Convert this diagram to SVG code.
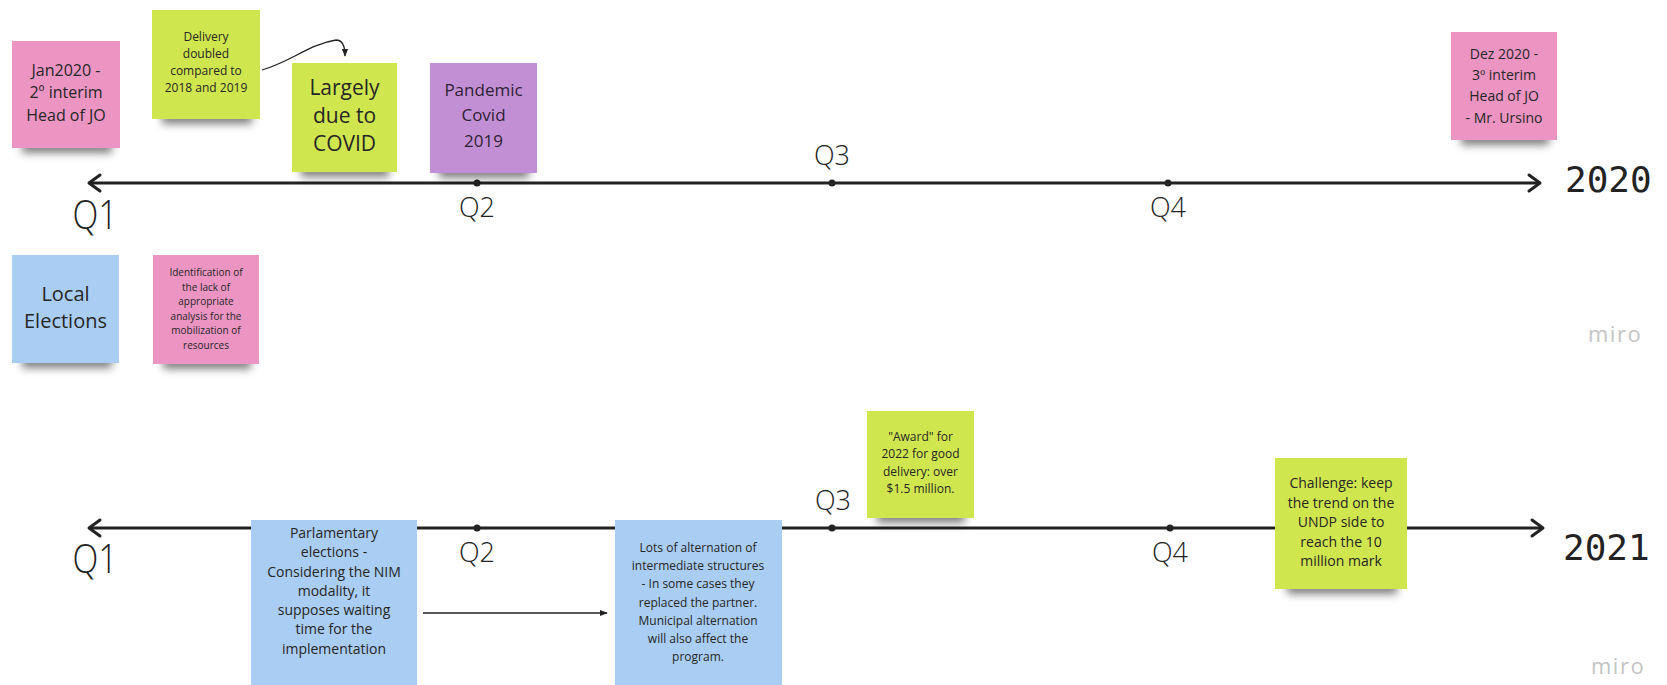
<svg xmlns="http://www.w3.org/2000/svg" width="1667" height="685" viewBox="0 0 1667 685">
<style>
  .t { font-family: "Open Sans", "Noto Sans", sans-serif; fill: #262626; text-anchor: middle; dominant-baseline: central; }
  .q { font-family: "Open Sans", "Noto Sans", sans-serif; font-weight: 300; fill: #222; text-anchor: middle; }
  .yr { font-family: "DejaVu Sans Mono", "Liberation Mono", monospace; fill: #222; font-size: 36px; }
  .miro { font-family: "Open Sans", "Noto Sans", sans-serif; fill: #c4c4c4; font-size: 22px; letter-spacing: 1.5px; }
  .pink { fill: #ed95c2; }
  .green { fill: #d0e64e; }
  .purple { fill: #c38fd4; }
  .blue { fill: #a9cdf3; }
  .shadow { fill: #000; opacity: 0.5; filter: url(#blur); }
  .axis { stroke: #222; stroke-width: 3; fill: none; }
  .head { stroke: #222; stroke-width: 3; fill: none; stroke-linecap: round; stroke-linejoin: round; }
  .conn { stroke: #222; stroke-width: 1.3; fill: none; }
  .dot { fill: #222; }
</style>
<defs>
  <filter id="blur" x="-20%" y="-100%" width="140%" height="300%">
    <feGaussianBlur stdDeviation="4"/>
  </filter>
  <marker id="arr" viewBox="0 0 10 10" refX="9" refY="5" markerWidth="8" markerHeight="8" orient="auto" markerUnits="userSpaceOnUse">
    <path d="M0,1 L10,5 L0,9 Z" fill="#222"/>
  </marker>
</defs>
<rect width="1667" height="685" fill="#ffffff"/>

<g id="timelines">
  <line class="axis" x1="89" y1="183" x2="1539" y2="183"/>
  <polyline class="head" points="100,175 89,183 100,191"/>
  <polyline class="head" points="1529,175 1540,183 1529,191"/>
  <circle class="dot" cx="477" cy="183" r="3.5"/>
  <circle class="dot" cx="832" cy="183" r="3.5"/>
  <circle class="dot" cx="1168" cy="183" r="3.5"/>
  <line class="axis" x1="89" y1="528" x2="1542" y2="528"/>
  <polyline class="head" points="100,520 89,528 100,536"/>
  <polyline class="head" points="1532,520 1543,528 1532,536"/>
  <circle class="dot" cx="477" cy="528" r="3.5"/>
  <circle class="dot" cx="832" cy="528" r="3.5"/>
  <circle class="dot" cx="1170" cy="528" r="3.5"/>
</g>

<g id="labels">
  <text class="q" x="95" y="229" font-size="40" textLength="45" lengthAdjust="spacingAndGlyphs">Q1</text>
  <text class="q" x="477" y="217" font-size="27" textLength="36" lengthAdjust="spacingAndGlyphs">Q2</text>
  <text class="q" x="832" y="165" font-size="27" textLength="36" lengthAdjust="spacingAndGlyphs">Q3</text>
  <text class="q" x="1168" y="217" font-size="27" textLength="36" lengthAdjust="spacingAndGlyphs">Q4</text>
  <text class="yr" x="1565" y="192">2020</text>
  <text class="q" x="95" y="573" font-size="40" textLength="45" lengthAdjust="spacingAndGlyphs">Q1</text>
  <text class="q" x="477" y="562" font-size="27" textLength="36" lengthAdjust="spacingAndGlyphs">Q2</text>
  <text class="q" x="833" y="510" font-size="27" textLength="36" lengthAdjust="spacingAndGlyphs">Q3</text>
  <text class="q" x="1170" y="562" font-size="27" textLength="36" lengthAdjust="spacingAndGlyphs">Q4</text>
  <text class="yr" x="1563" y="560">2021</text>
  <text class="miro" x="1588" y="342">miro</text>
  <text class="miro" x="1591" y="674">miro</text>
</g>

<g id="jan2020">
  <rect class="shadow" x="22" y="140" width="90" height="13"/>
  <rect class="pink" x="12" y="41" width="108" height="107"/>
  <text class="t" font-size="16"><tspan x="66" y="70">Jan2020 -</tspan><tspan x="66" y="92">2º interim</tspan><tspan x="66" y="115">Head of JO</tspan></text>
</g>

<g id="delivery">
  <rect class="shadow" x="162" y="111" width="90" height="13"/>
  <rect class="green" x="152" y="10" width="108" height="109"/>
  <text class="t" font-size="12"><tspan x="206" y="36">Delivery</tspan><tspan x="206" y="53">doubled</tspan><tspan x="206" y="70">compared to</tspan><tspan x="206" y="87">2018 and 2019</tspan></text>
</g>

<g id="largely">
  <rect class="shadow" x="301" y="164" width="88" height="13"/>
  <rect class="green" x="292" y="63" width="105" height="109"/>
  <text class="t" font-size="21"><tspan x="344.5" y="87">Largely</tspan><tspan x="344.5" y="115">due to</tspan><tspan x="344.5" y="143">COVID</tspan></text>
</g>

<g id="pandemic">
  <rect class="shadow" x="439" y="165" width="90" height="13"/>
  <rect class="purple" x="430" y="63" width="107" height="110"/>
  <text class="t" font-size="17" style="fill:#2e1f35"><tspan x="483.5" y="89">Pandemic</tspan><tspan x="483.5" y="114">Covid</tspan><tspan x="483.5" y="140">2019</tspan></text>
</g>

<g id="dez2020">
  <rect class="shadow" x="1461" y="132" width="88" height="13"/>
  <rect class="pink" x="1451" y="32" width="106" height="108"/>
  <text class="t" font-size="14"><tspan x="1504" y="53">Dez 2020 -</tspan><tspan x="1504" y="74">3º interim</tspan><tspan x="1504" y="95">Head of JO</tspan><tspan x="1504" y="117">- Mr. Ursino</tspan></text>
</g>

<g id="local-elections">
  <rect class="shadow" x="22" y="355" width="90" height="13"/>
  <rect class="blue" x="12" y="255" width="107" height="108"/>
  <text class="t" font-size="20"><tspan x="65.5" y="293">Local</tspan><tspan x="65.5" y="320">Elections</tspan></text>
</g>

<g id="identification">
  <rect class="shadow" x="163" y="356" width="88" height="13"/>
  <rect class="pink" x="153" y="255" width="106" height="109"/>
  <text class="t" font-size="10"><tspan x="206" y="272">Identification of</tspan><tspan x="206" y="287">the lack of</tspan><tspan x="206" y="301">appropriate</tspan><tspan x="206" y="316">analysis for the</tspan><tspan x="206" y="330">mobilization of</tspan><tspan x="206" y="345">resources</tspan></text>
</g>

<g id="award">
  <rect class="shadow" x="877" y="510" width="88" height="13"/>
  <rect class="green" x="867" y="411" width="107" height="107"/>
  <text class="t" font-size="12"><tspan x="920.5" y="436">"Award" for</tspan><tspan x="920.5" y="453">2022 for good</tspan><tspan x="920.5" y="471">delivery: over</tspan><tspan x="920.5" y="488">$1.5 million.</tspan></text>
</g>

<g id="challenge">
  <rect class="shadow" x="1287" y="581" width="110" height="13"/>
  <rect class="green" x="1275" y="458" width="132" height="131"/>
  <text class="t" font-size="14"><tspan x="1341" y="482">Challenge: keep</tspan><tspan x="1341" y="502">the trend on the</tspan><tspan x="1341" y="521">UNDP side to</tspan><tspan x="1341" y="541">reach the 10</tspan><tspan x="1341" y="560">million mark</tspan></text>
</g>

<g id="parlamentary">
  <rect class="blue" x="251" y="520" width="166" height="170"/>
  <text class="t" font-size="14"><tspan x="334" y="532">Parlamentary</tspan><tspan x="334" y="551">elections -</tspan><tspan x="334" y="571">Considering the NIM</tspan><tspan x="334" y="590">modality, it</tspan><tspan x="334" y="609">supposes waiting</tspan><tspan x="334" y="628">time for the</tspan><tspan x="334" y="648">implementation</tspan></text>
</g>

<g id="alternation">
  <rect class="blue" x="615" y="520" width="167" height="170"/>
  <text class="t" font-size="12"><tspan x="698" y="547">Lots of alternation of</tspan><tspan x="698" y="565">intermediate structures</tspan><tspan x="698" y="583">- In some cases they</tspan><tspan x="698" y="602">replaced the partner.</tspan><tspan x="698" y="620">Municipal alternation</tspan><tspan x="698" y="638">will also affect the</tspan><tspan x="698" y="656">program.</tspan></text>
</g>

<g id="connectors">
  <path class="conn" d="M262,70 C290,62 310,44 336,40 C342,40 345,46 345,56" marker-end="url(#arr)"/>
  <line class="conn" x1="423" y1="613" x2="607" y2="613" marker-end="url(#arr)"/>
</g>
</svg>
